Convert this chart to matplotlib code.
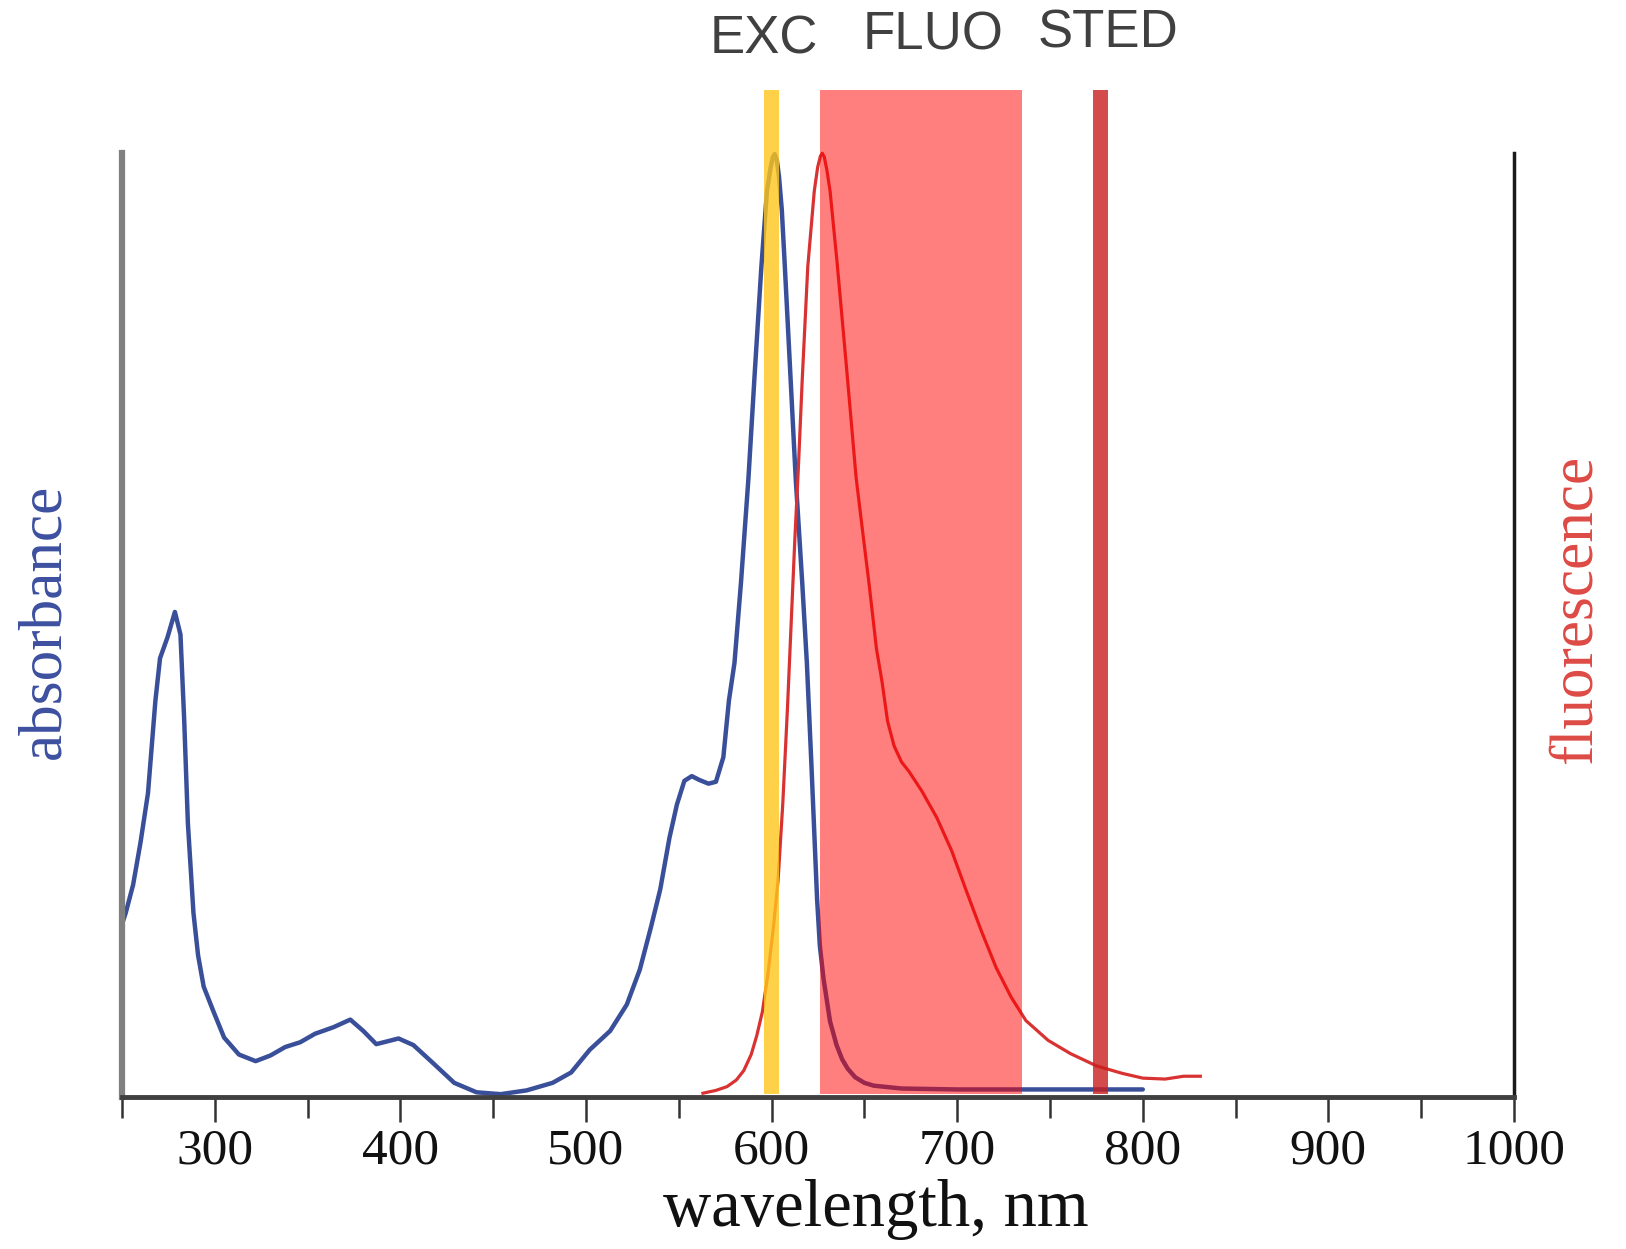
import matplotlib.pyplot as plt
import matplotlib.transforms as mtransforms
from matplotlib.ticker import MultipleLocator

# absorbance spectrum (blue), normalised to the red/blue peak height
abs_nm = [250, 252, 256, 260, 264, 268, 270.5, 274.5, 278.5, 281.5, 283.5, 285.5,
          288.5, 291, 294, 299, 305, 313, 322, 330, 338, 346, 354, 364, 373, 380,
          387, 393, 399, 407, 417, 429, 441, 454, 468, 482, 492, 502, 513, 522,
          529, 535, 540, 545, 549, 553, 557, 561, 566, 570, 574, 577, 580, 583.5,
          587.5, 591, 594.5, 597.5, 599.5, 600.7, 601.7, 602.8, 604, 605.5, 607,
          610, 613, 616.5, 619, 621.5, 623, 624.5, 626, 628, 631.5, 635, 638, 641,
          645, 650, 655, 670, 700, 750, 800]
abs_val = [0.183, 0.195, 0.225, 0.27, 0.322, 0.42, 0.465, 0.487, 0.514, 0.49, 0.40,
           0.29, 0.195, 0.15, 0.117, 0.092, 0.063, 0.045, 0.038, 0.044, 0.053, 0.058,
           0.067, 0.074, 0.082, 0.07, 0.056, 0.059, 0.062, 0.055, 0.037, 0.015,
           0.005, 0.003, 0.007, 0.015, 0.026, 0.05, 0.07, 0.098, 0.135, 0.18, 0.22,
           0.275, 0.31, 0.335, 0.34, 0.336, 0.332, 0.334, 0.36, 0.42, 0.46, 0.545,
           0.655, 0.77, 0.88, 0.96, 0.985, 0.996, 0.999, 0.993, 0.975, 0.94, 0.885,
           0.77, 0.655, 0.545, 0.46, 0.35, 0.28, 0.21, 0.16, 0.125, 0.08, 0.055,
           0.04, 0.03, 0.021, 0.015, 0.012, 0.009, 0.008, 0.008, 0.008]

# fluorescence spectrum (red)
fluo_nm = [563, 570, 576, 581, 585, 589, 592, 595, 598, 601, 603.5, 606, 608.5,
           610.5, 612.5, 614.5, 616.5, 619.5, 623, 624.8, 626.3, 627.3, 628.4, 629.8,
           631.5, 635.3, 640.5, 645.5, 649, 652.5, 656.5, 659.5, 662.5, 666, 670,
           674, 681, 689, 697, 705, 713, 721, 729, 737, 749, 761, 775, 789, 800,
           812, 822, 831]
fluo_val = [0.004, 0.007, 0.011, 0.018, 0.028, 0.045, 0.065, 0.09, 0.13, 0.18, 0.23,
            0.31, 0.41, 0.5, 0.59, 0.67, 0.76, 0.88, 0.96, 0.985, 0.997, 1.0, 0.996,
            0.982, 0.96, 0.884, 0.77, 0.657, 0.6, 0.544, 0.475, 0.44, 0.398, 0.372,
            0.355, 0.345, 0.324, 0.296, 0.261, 0.218, 0.176, 0.137, 0.106, 0.081,
            0.06, 0.046, 0.033, 0.025, 0.02, 0.019, 0.022, 0.022]

# laser / detection windows
band_names = ["EXC", "FLUO", "STED"]
band_lo = [596, 626, 773]
band_hi = [604, 735, 781]
band_colors = ["#ffc61a", "#ff0000", "#c81e1e"]
band_alpha = [0.8, 0.5, 0.8]
name_x = [596, 687, 781]
name_base = [54, 50, 47]  # baseline, pixels from top

xticks = [300, 400, 500, 600, 700, 800, 900, 1000]

W, H = 1626, 1249
fig = plt.figure(figsize=(W / 100, H / 100), dpi=100)
ax = fig.add_axes([122 / W, 1 - 1097 / H, (1514 - 122) / W, (1097 - 90) / H])
ax.set_xlim(250, 1000)
ax.set_ylim(0, 1.067)

ax.plot(abs_nm, abs_val, color="#3a4f99", lw=3.2, solid_joinstyle="round",
        solid_capstyle="round", zorder=2)
ax.plot(fluo_nm, fluo_val, color="#d93232", lw=2.3, solid_joinstyle="round", zorder=2)

for lo, hi, c, a in zip(band_lo, band_hi, band_colors, band_alpha):
    ax.axvspan(lo, hi, ymin=0.003, ymax=1.0, color=c, alpha=a, lw=0, zorder=3)

trans = mtransforms.blended_transform_factory(ax.transData, fig.transFigure)
for name, x, b in zip(band_names, name_x, name_base):
    ax.text(x, 1 - b / H, name, transform=trans, ha="center", va="baseline",
            fontsize=38, color="#404040", family="Liberation Sans")

# spines
ax.spines["top"].set_visible(False)
ax.spines["left"].set_bounds(0, 1)
ax.spines["left"].set_color("#808080")
ax.spines["left"].set_linewidth(4.5)
ax.spines["right"].set_bounds(0, 1)
ax.spines["right"].set_color("#1a1a1a")
ax.spines["right"].set_linewidth(2.5)
ax.spines["bottom"].set_color("#404040")
ax.spines["bottom"].set_linewidth(3.5)

ax.set_yticks([])
ax.set_xticks(xticks)
ax.set_xticklabels([str(t) for t in xticks], family="Liberation Serif", fontsize=37)
ax.xaxis.set_minor_locator(MultipleLocator(50))
ax.tick_params(axis="x", which="major", length=18, width=1.8, color="#333333",
               direction="out", pad=4, labelcolor="#111111")
ax.tick_params(axis="x", which="minor", length=15, width=1.8, color="#333333",
               direction="out")

ax.text(656, -0.128, "wavelength, nm",
        transform=mtransforms.blended_transform_factory(ax.transData, ax.transAxes),
        ha="center", va="baseline", fontsize=48, family="Liberation Serif",
        color="#111111")

fig.text(45 / W, 1 - 621 / H, "absorbance", rotation=90, ha="center", va="center",
         fontsize=44, family="Liberation Serif", color="#3c50a0")
fig.text(1576 / W, 1 - 609 / H, "fluorescence", rotation=90, ha="center", va="center",
         fontsize=44, family="Liberation Serif", color="#dd4a45")

fig.savefig("out.png", dpi=100)
